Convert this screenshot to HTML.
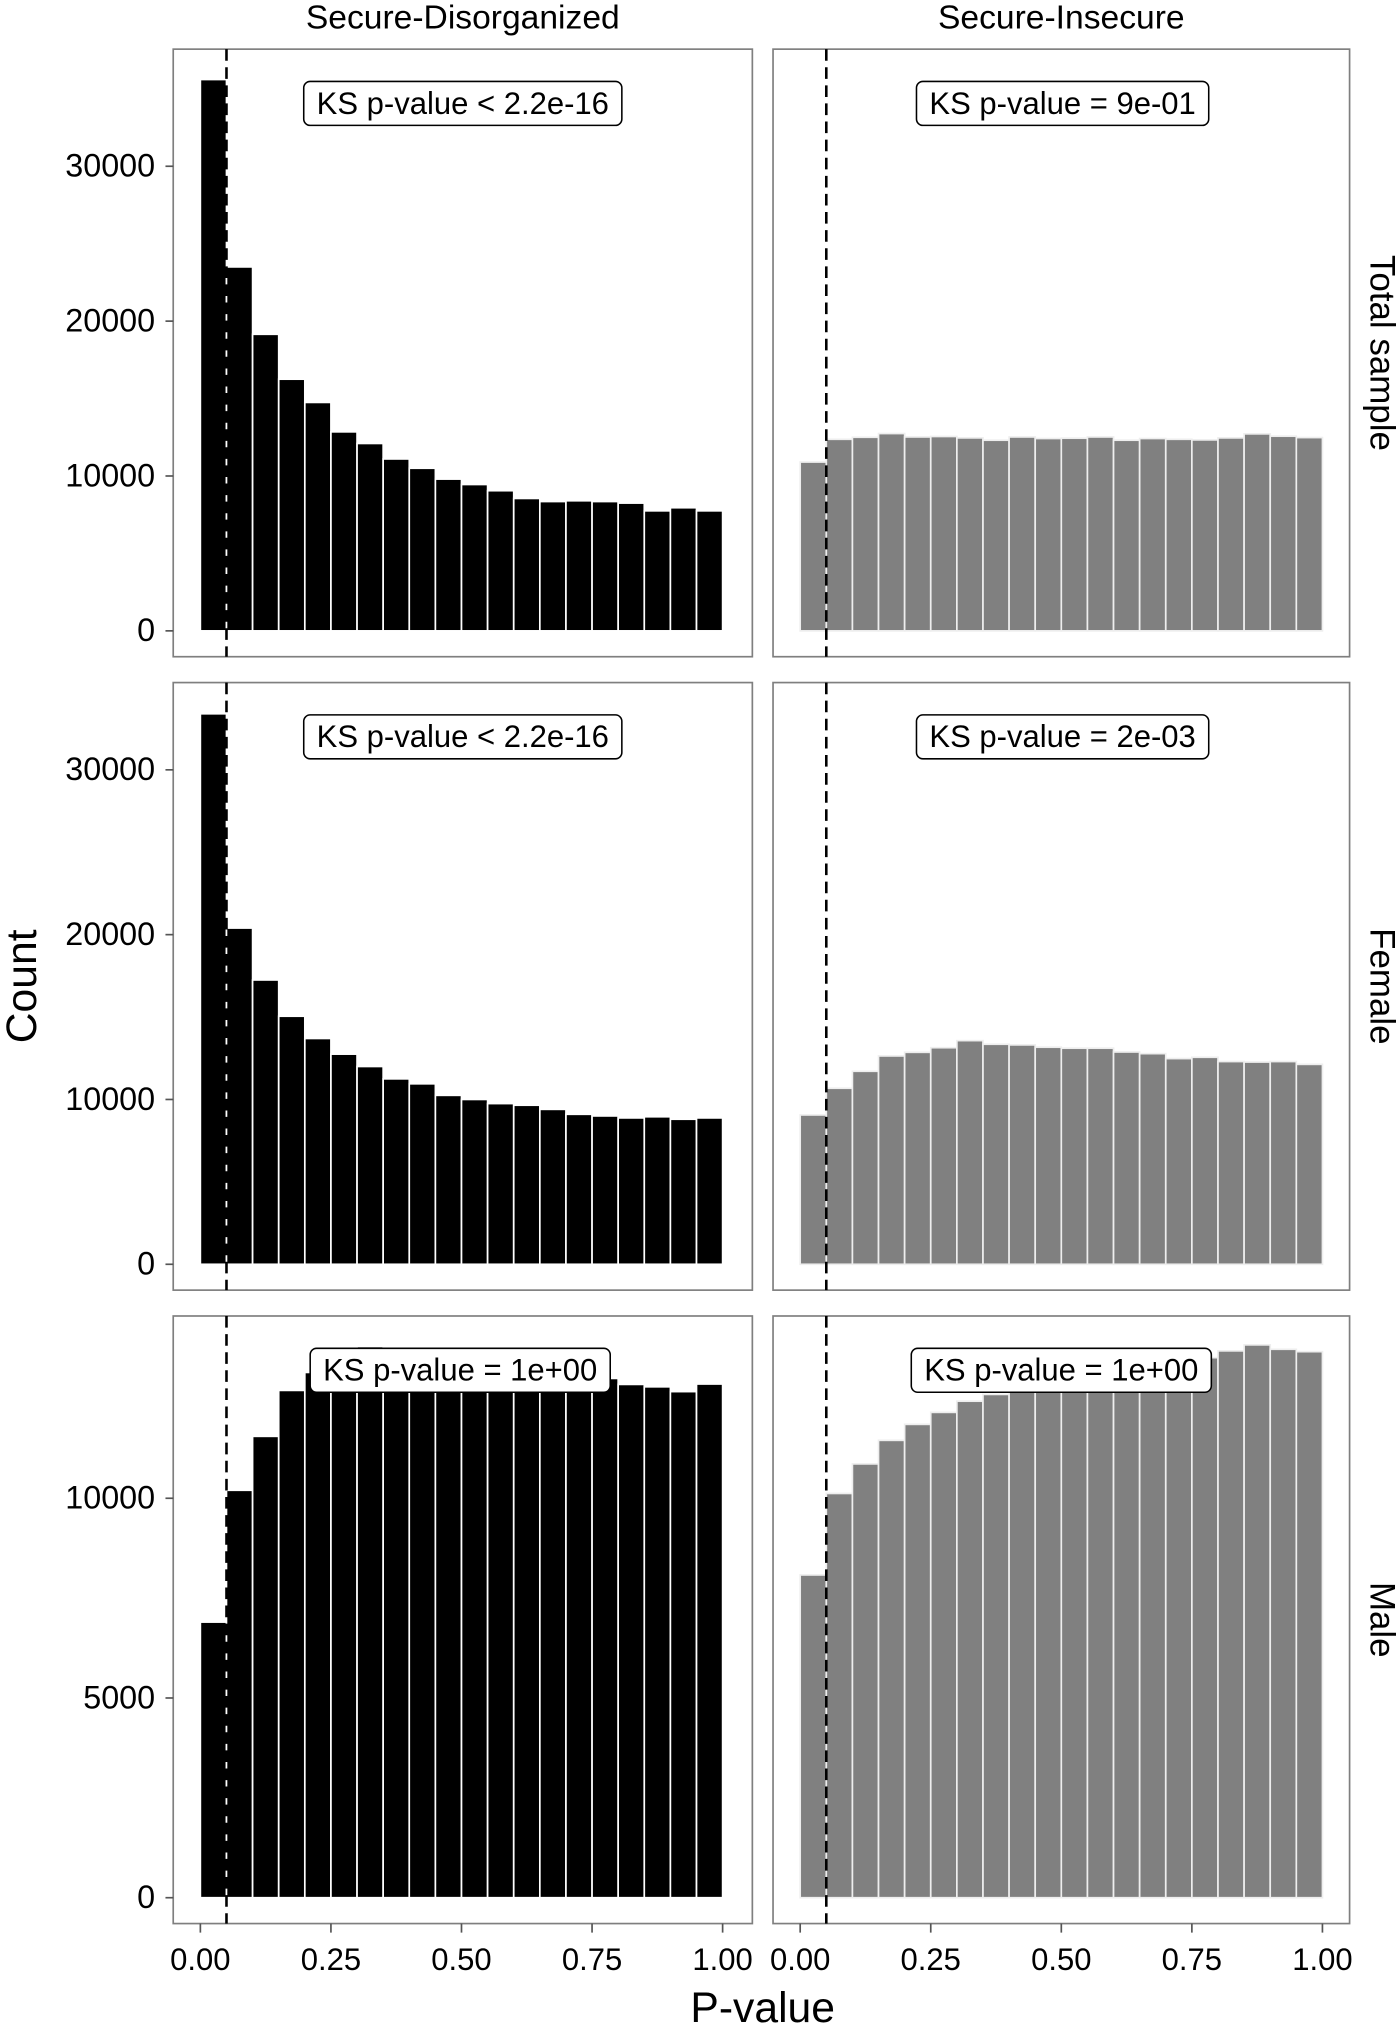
<!DOCTYPE html>
<html><head><meta charset="utf-8">
<style>
html,body{margin:0;padding:0;background:#fff;}
svg{display:block;font-family:"Liberation Sans",Arial,sans-serif;}
</style></head>
<body>
<svg id="chart" width="1400" height="2027" viewBox="0 0 1083 1568" xmlns="http://www.w3.org/2000/svg"></svg>
<script>
const columns = ["Secure-Disorganized", "Secure-Insecure"];
const rows = ["Total sample", "Female", "Male"];
const ksLabels = [
  ["KS p-value < 2.2e-16", "KS p-value = 9e-01"],
  ["KS p-value < 2.2e-16", "KS p-value = 2e-03"],
  ["KS p-value = 1e+00", "KS p-value = 1e+00"]
];
const totalDisorg = [35600,23500,19150,16250,14750,12850,12100,11100,10500,9800,9450,9050,8550,8350,8400,8350,8250,7750,7950,7750];
const totalInsec = [10900,12370,12500,12740,12520,12550,12460,12310,12520,12420,12440,12520,12310,12420,12370,12330,12460,12720,12570,12480];
const femaleDisorg = [33400,20400,17250,15050,13700,12750,12000,11250,10950,10250,10000,9750,9650,9400,9100,9000,8880,8950,8800,8880];
const femaleInsec = [9060,10680,11710,12640,12860,13140,13570,13350,13310,13170,13110,13110,12880,12780,12480,12560,12300,12270,12300,12130];
const maleDisorg = [6900,10200,11550,12700,13150,13300,13800,13400,13300,13200,13300,13100,13000,13100,13200,13000,12850,12790,12670,12860];
const maleInsec = [8080,10120,10860,11450,11850,12150,12430,12600,12700,12800,12900,13000,13100,13200,13350,13520,13690,13840,13730,13670];
const yTicks = [[0,10000,20000,30000],[0,10000,20000,30000],[0,5000,10000]];
const xTicks = [0,0.25,0.5,0.75,1];
const xTickLabels = ["0.00","0.25","0.50","0.75","1.00"];
const binWidth = 0.05;
const cutoff = 0.05;

const series = [[totalDisorg,totalInsec],[femaleDisorg,femaleInsec],[maleDisorg,maleInsec]];
const NS = "http://www.w3.org/2000/svg";
const svg = document.getElementById("chart");
function mk(tag, attrs, parent){
  const e = document.createElementNS(NS, tag);
  for (const k in attrs) e.setAttribute(k, attrs[k]);
  (parent||svg).appendChild(e);
  return e;
}
const panelX = [[134,582],[598,1044]];
const panelY = [[38,508],[528,998],[1018,1488]];
const zeroY = [488,978,1468];
const pxPer = [119.8/10000,127.5/10000,154.5/5000];
const x0 = [155,619], xSpan = 404;
function xScale(c,v){ return x0[c] + v*xSpan; }
function yScale(r,v){ return zeroY[r] - v*pxPer[r]; }

for (let r=0;r<3;r++){
  for (let c=0;c<2;c++){
    const g = mk("g",{});
    
    
    const [px1,px2]=panelX[c],[py1,py2]=panelY[r];
    mk("rect",{x:px1,y:py1,width:px2-px1,height:py2-py1,fill:"#fff",stroke:"#7f7f7f","stroke-width":1.3},g);
    const vals = series[r][c];
    vals.forEach((v,i)=>{
      const xa=xScale(c,i*binWidth), xb=xScale(c,(i+1)*binWidth);
      const b = mk("rect",{x:xa,y:yScale(r,v),width:xb-xa,height:zeroY[r]-yScale(r,v),
        fill:c===0?"#000":"#808080",stroke:c===0?"#fff":"#eeeeee","stroke-width":1.3},g);
      
      
    });
    const dl = mk("line",{x1:xScale(c,cutoff),x2:xScale(c,cutoff),y1:py1,y2:py2,stroke:"#000","stroke-width":2,"stroke-dasharray":"9,5"},g);
    
    
    const cx = c===0 ? (r===2?356:358) : (r===2?821:822);
    const ty = panelY[r][0]+42;
    const t = mk("text",{x:cx,y:ty+8,"text-anchor":"middle","font-size":24,fill:"#000"},g);
    t.textContent = ksLabels[r][c];
    const w = t.getComputedTextLength()+20;
    const box = mk("rect",{x:cx-w/2,y:ty-17,width:w,height:34,rx:5,fill:"#fff",stroke:"#000","stroke-width":1.2},g);
    g.insertBefore(box,t);
    
    
    
    
  }
  yTicks[r].forEach(v=>{
    const y=yScale(r,v);
    const tl = mk("line",{x1:128,x2:134,y1:y,y2:y,stroke:"#555","stroke-width":1.3});
    
    
    const tt = mk("text",{x:120,y:y+8,"text-anchor":"end","font-size":25,fill:"#000"});
    tt.textContent = v;
    
    
  });
  const rs = mk("text",{x:0,y:0,"text-anchor":"middle","font-size":27,fill:"#000",transform:"translate(1060,"+((panelY[r][0]+panelY[r][1])/2)+") rotate(90)"});
  rs.textContent = rows[r];
  
  
}
for (let c=0;c<2;c++){
  const cs = mk("text",{x:(panelX[c][0]+panelX[c][1])/2,y:22,"text-anchor":"middle","font-size":26,fill:"#000"});
  cs.textContent = columns[c];
  
  
  xTicks.forEach((v,i)=>{
    const x=xScale(c,v);
    const tl = mk("line",{x1:x,x2:x,y1:1488,y2:1495,stroke:"#555","stroke-width":1.3});
    
    
    const tt = mk("text",{x:x,y:1524,"text-anchor":"middle","font-size":24,fill:"#000"});
    tt.textContent = xTickLabels[i];
    
    
  });
}
const xt = mk("text",{x:590,y:1564,"text-anchor":"middle","font-size":33,fill:"#000"});
xt.textContent = "P-value";


const yt = mk("text",{x:0,y:0,"text-anchor":"middle","font-size":33,fill:"#000",transform:"translate(28,763) rotate(-90)"});
yt.textContent = "Count";


</script>
</body></html>
